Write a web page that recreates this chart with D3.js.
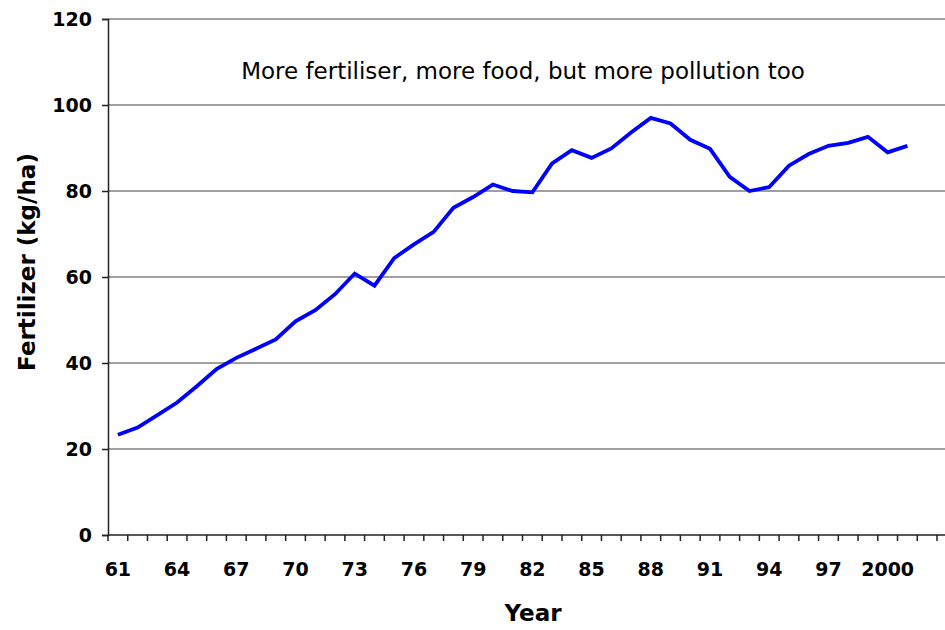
<!DOCTYPE html>
<html>
<head>
<meta charset="utf-8">
<script src="https://cdn.jsdelivr.net/npm/d3@7"></script>
<style>
  body { margin: 0; background: #fff; }
  svg text { font-family: "Comic Sans MS", "DejaVu Sans", sans-serif; fill: #000; }
</style>
</head>
<body>
<div id="chart"></div>
<script>
// data
var years = [1961,1962,1963,1964,1965,1966,1967,1968,1969,1970,
             1971,1972,1973,1974,1975,1976,1977,1978,1979,1980,
             1981,1982,1983,1984,1985,1986,1987,1988,1989,1990,
             1991,1992,1993,1994,1995,1996,1997,1998,1999,2000,2001];
var fertilizer = [23.3,25.0,27.9,30.8,34.6,38.6,41.2,43.3,45.5,49.7,
                  52.3,56.0,60.8,58.0,64.4,67.6,70.5,76.1,78.6,81.5,
                  80.0,79.7,86.4,89.5,87.7,89.9,93.6,97.0,95.7,91.9,
                  89.8,83.3,80.0,80.9,85.9,88.6,90.5,91.2,92.6,89.0,90.5];
var axisYears = d3.range(1961, 2003);       // category slots on the x axis
var yTicks = [0, 20, 40, 60, 80, 100, 120];
var title = "More fertiliser, more food, but more pollution too";

var W = 945, H = 630;
var margin = {left: 108, right: 937, top: 19, bottom: 535};

var svg = d3.select("#chart").append("svg")
    .attr("width", W).attr("height", H);

var x = d3.scaleBand().domain(axisYears).range([margin.left, margin.right]);
var y = d3.scaleLinear().domain([0, 120]).range([margin.bottom, margin.top]);

// horizontal grid lines
svg.append("g")
  .selectAll("line")
  .data(yTicks.filter(function(d){ return d > 0; }))
  .enter().append("line")
    .attr("x1", margin.left).attr("x2", W)
    .attr("y1", function(d){ return y(d); })
    .attr("y2", function(d){ return y(d); })
    .attr("stroke", "#808080").attr("stroke-width", 1.3);

// y axis
var yAxis = svg.append("g")
    .attr("transform", "translate(" + margin.left + ",0)")
    .call(d3.axisLeft(y).tickValues(yTicks).tickSize(6).tickPadding(10));
yAxis.select(".domain").attr("stroke", "#222").attr("stroke-width", 1.5);
yAxis.selectAll(".tick line").attr("stroke", "#222").attr("stroke-width", 1.5);
yAxis.selectAll("text").attr("font-size", 19).attr("font-weight", 600)
    .style("font-family", null);

// x axis: tick marks at slot edges, labels every third year
var edges = axisYears.map(function(d){ return x(d); }).concat([x(2002) + x.bandwidth()]);
var xg = svg.append("g");
xg.append("line")
    .attr("x1", margin.left).attr("x2", W)
    .attr("y1", margin.bottom).attr("y2", margin.bottom)
    .attr("stroke", "#222").attr("stroke-width", 1.5);
xg.selectAll("line.tk")
  .data(edges)
  .enter().append("line")
    .attr("class", "tk")
    .attr("x1", function(d){ return d; }).attr("x2", function(d){ return d; })
    .attr("y1", margin.bottom).attr("y2", margin.bottom + 6)
    .attr("stroke", "#222").attr("stroke-width", 1.5);
xg.selectAll("text")
  .data(axisYears.filter(function(d){ return (d - 1961) % 3 === 0 && d <= 2000; }))
  .enter().append("text")
    .attr("x", function(d){ return x(d) + x.bandwidth() / 2; })
    .attr("y", 576)
    .attr("text-anchor", "middle")
    .attr("font-size", 19).attr("font-weight", 600)
    .text(function(d){ return d === 2000 ? "2000" : String(d % 100); });

// data line
var pts = years.map(function(d, i){ return [d, fertilizer[i]]; });
svg.append("path")
    .datum(pts)
    .attr("fill", "none")
    .attr("stroke", "#0000ff")
    .attr("stroke-width", 3.8)
    .attr("stroke-linejoin", "miter")
    .attr("d", d3.line()
        .x(function(d){ return x(d[0]) + x.bandwidth() / 2; })
        .y(function(d){ return y(d[1]); }));

// texts
svg.append("text")
    .attr("x", 523).attr("y", 79)
    .attr("text-anchor", "middle")
    .attr("font-size", 23)
    .text(title);

svg.append("text")
    .attr("x", 533).attr("y", 621)
    .attr("text-anchor", "middle")
    .attr("font-size", 23).attr("font-weight", 700)
    .text("Year");

svg.append("text")
    .attr("transform", "translate(35,262) rotate(-90)")
    .attr("text-anchor", "middle")
    .attr("font-size", 23).attr("font-weight", 700)
    .text("Fertilizer (kg/ha)");
</script>
</body>
</html>
